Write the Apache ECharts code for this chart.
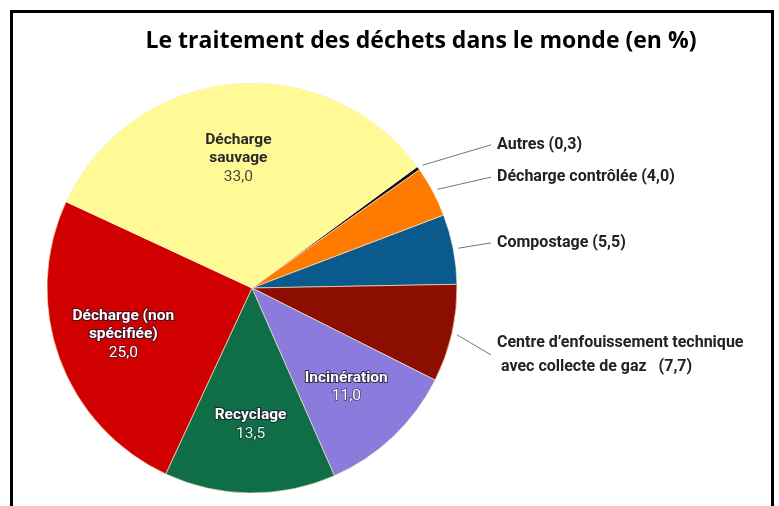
<!DOCTYPE html>
<html>
<head>
<meta charset="utf-8">
<script src="https://cdn.jsdelivr.net/npm/echarts@6/dist/echarts.min.js"></script>
<style>
html,body{margin:0;padding:0;background:#fff;}
#chart{width:779px;height:506px;}
</style>
</head>
<body>
<div id="chart"></div>
<script>
const titleText = "Le traitement des déchets dans le monde (en %)";
const categories = [
  "Autres",
  "Décharge contrôlée",
  "Compostage",
  "Centre d’enfouissement technique\n avec collecte de gaz",
  "Incinération",
  "Recyclage",
  "Décharge (non\nspécifiée)",
  "Décharge\nsauvage"
];
const values = [0.3, 4.0, 5.5, 7.7, 11.0, 13.5, 25.0, 33.0];
const colors = ["#111111", "#FF7A00", "#0B5A8E", "#8C0E00", "#8A7BDC", "#0F6E47", "#D00000", "#FFF996"];
const insideFlags = [false, false, false, false, true, true, true, true];
const lineLengths = [40, 31, 33, 96, 0, 0, 0, 0];

const CX = 252, CY = 288, R = 205;
const LABEL_X = CX + R + 40;

const fmt = v => v.toFixed(1).replace('.', ',');

const mainData = categories.map((c, i) => ({
  name: c,
  value: values[i],
  itemStyle: { color: colors[i] },
  label: insideFlags[i] ? { show: false } : {
    show: true,
    formatter: i === 3 ? (c + '   (' + fmt(values[i]) + ')') : (c + ' (' + fmt(values[i]) + ')')
  },
  labelLine: insideFlags[i] ? { show: false } : { show: true, length: lineLengths[i] }
}));

const labelData = categories.map((c, i) => {
  const dark = i === 7;
  return {
    name: c,
    value: values[i],
    itemStyle: { color: 'rgba(0,0,0,0)' },
    label: insideFlags[i] ? {
      show: true,
      position: 'inside',
      offset: dark ? [0, 7] : [0, 0],
      formatter: '{n|' + c.split('\n').join('}\n{n|') + '}\n{v|' + fmt(values[i]) + '}',
      rich: {
        n: {
          fontFamily: 'Roboto', fontWeight: 'bold', fontSize: 15.5, lineHeight: 18,
          color: dark ? '#2a2a2a' : '#ffffff',
          textBorderColor: dark ? 'transparent' : 'rgba(30,20,40,0.75)',
          textBorderWidth: dark ? 0 : 2
        },
        v: {
          fontFamily: 'Roboto', fontSize: 15.5, lineHeight: 19,
          color: dark ? '#4a4a3a' : (i === 5 ? '#d8fff0' : '#ffffff'),
          textBorderColor: dark ? 'transparent' : 'rgba(30,20,40,0.6)',
          textBorderWidth: dark ? 0 : 1.5
        }
      }
    } : { show: false },
    labelLine: { show: false }
  };
});

const chart = echarts.init(document.getElementById('chart'), null, { renderer: 'canvas' });
chart.setOption({
  backgroundColor: '#ffffff',
  animation: false,
  title: {
    text: titleText,
    left: 416,
    textAlign: 'center',
    top: 25,
    textStyle: { fontFamily: 'Open Sans', fontWeight: 'bold', fontSize: 23, color: '#000' }
  },
  graphic: [{
    type: 'rect',
    silent: true,
    z: 100,
    shape: { x: 11.5, y: 11.5, width: 761, height: 520 },
    style: { fill: 'none', stroke: '#000', lineWidth: 3 }
  }],
  series: [
    {
      type: 'pie',
      center: [CX, CY],
      radius: [0, R],
      startAngle: 36.3,
      clockwise: true,
      silent: true,
      itemStyle: { borderColor: 'rgba(255,240,200,0.8)', borderWidth: 0.8 },
      label: {
        position: 'outside',
        width: 270,
        overflow: 'none',
        fontFamily: 'Roboto', fontWeight: 'bold', fontSize: 16, lineHeight: 24,
        color: '#222'
      },
      labelLine: { length2: 0, lineStyle: { color: '#777', width: 1 } },
      labelLayout: function (params) {
        const pts = params.labelLinePoints;
        if (!pts) return {};
        const rect = params.labelRect;
        const y = rect.y + rect.height / 2;
        const p0 = pts[0];
        const k = (R + 5) / R;
        const start = [CX + (p0[0] - CX) * k, CY + (p0[1] - CY) * k];
        return {
          x: LABEL_X,
          y: y,
          align: 'left',
          verticalAlign: 'middle',
          labelLinePoints: [start, [LABEL_X - 6, y]]
        };
      },
      data: mainData
    },
    {
      type: 'pie',
      center: [CX, CY],
      radius: [0, 268],
      startAngle: 36.3,
      clockwise: true,
      silent: true,
      z: 5,
      itemStyle: { borderWidth: 0 },
      data: labelData
    }
  ]
});
</script>
</body>
</html>
